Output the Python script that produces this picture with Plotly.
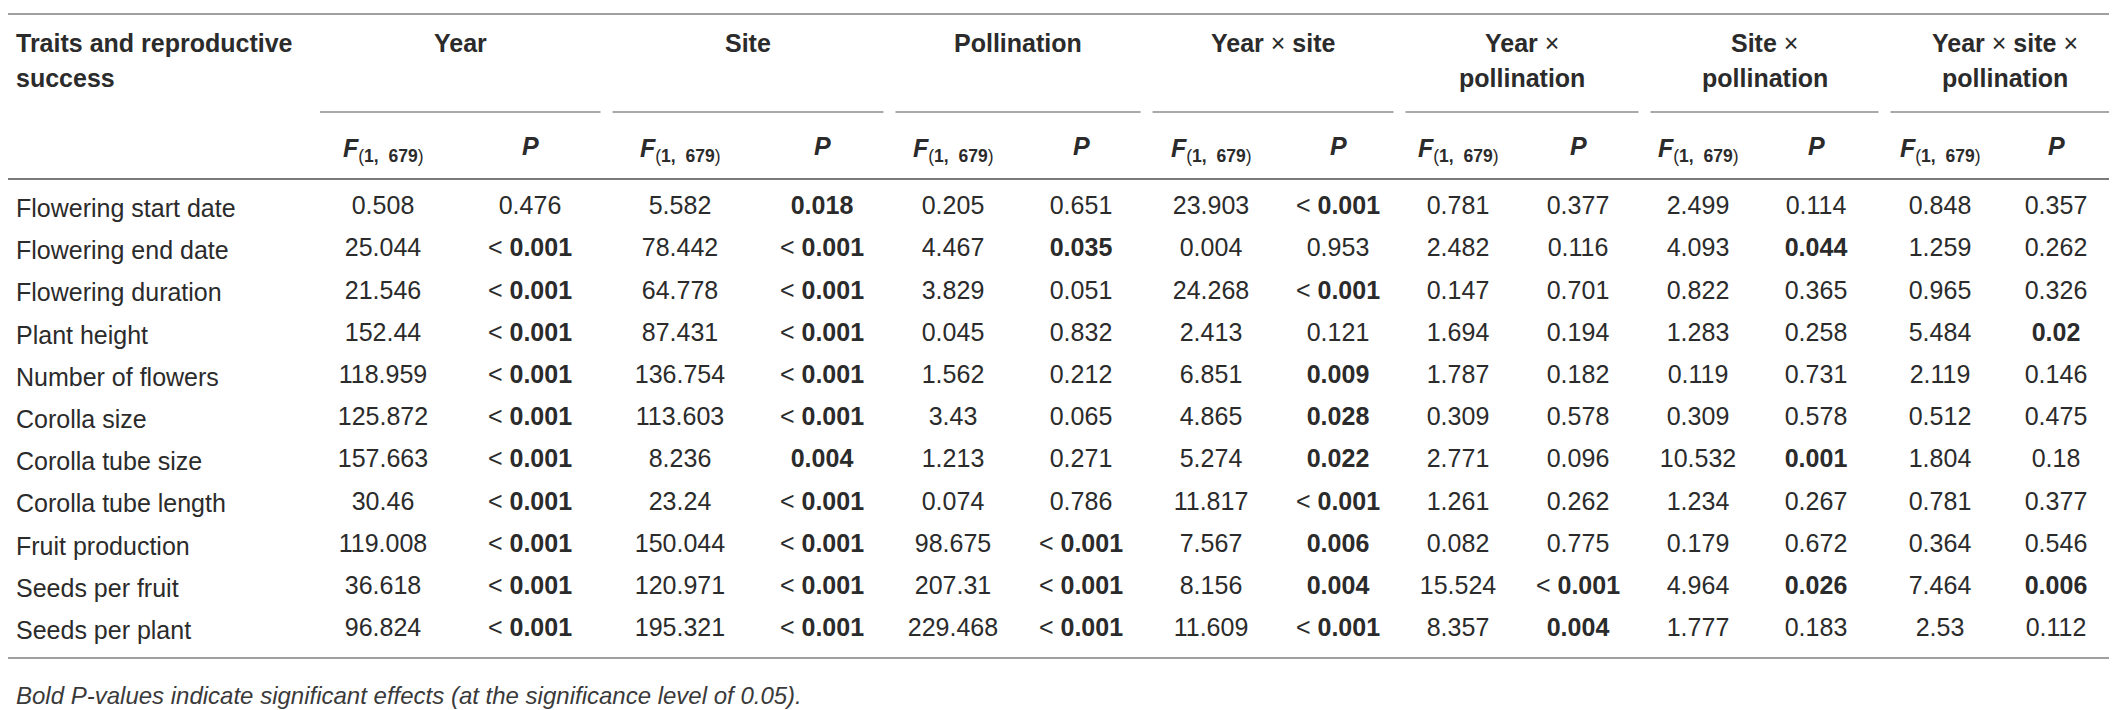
import plotly.graph_objects as go

# ---------------- data ----------------
traits = [
    "Flowering start date", "Flowering end date", "Flowering duration",
    "Plant height", "Number of flowers", "Corolla size", "Corolla tube size",
    "Corolla tube length", "Fruit production", "Seeds per fruit", "Seeds per plant",
]

effects = [
    ["Year"], ["Site"], ["Pollination"], ["Year × site"],
    ["Year ×", "pollination"], ["Site ×", "pollination"], ["Year × site ×", "pollination"],
]

f_year = ["0.508", "25.044", "21.546", "152.44", "118.959", "125.872", "157.663", "30.46", "119.008", "36.618", "96.824"]
p_year = ["0.476", "< 0.001", "< 0.001", "< 0.001", "< 0.001", "< 0.001", "< 0.001", "< 0.001", "< 0.001", "< 0.001", "< 0.001"]

f_site = ["5.582", "78.442", "64.778", "87.431", "136.754", "113.603", "8.236", "23.24", "150.044", "120.971", "195.321"]
p_site = ["0.018", "< 0.001", "< 0.001", "< 0.001", "< 0.001", "< 0.001", "0.004", "< 0.001", "< 0.001", "< 0.001", "< 0.001"]

f_poll = ["0.205", "4.467", "3.829", "0.045", "1.562", "3.43", "1.213", "0.074", "98.675", "207.31", "229.468"]
p_poll = ["0.651", "0.035", "0.051", "0.832", "0.212", "0.065", "0.271", "0.786", "< 0.001", "< 0.001", "< 0.001"]

f_ys = ["23.903", "0.004", "24.268", "2.413", "6.851", "4.865", "5.274", "11.817", "7.567", "8.156", "11.609"]
p_ys = ["< 0.001", "0.953", "< 0.001", "0.121", "0.009", "0.028", "0.022", "< 0.001", "0.006", "0.004", "< 0.001"]

f_yp = ["0.781", "2.482", "0.147", "1.694", "1.787", "0.309", "2.771", "1.261", "0.082", "15.524", "8.357"]
p_yp = ["0.377", "0.116", "0.701", "0.194", "0.182", "0.578", "0.096", "0.262", "0.775", "< 0.001", "0.004"]

f_sp = ["2.499", "4.093", "0.822", "1.283", "0.119", "0.309", "10.532", "1.234", "0.179", "4.964", "1.777"]
p_sp = ["0.114", "0.044", "0.365", "0.258", "0.731", "0.578", "0.001", "0.267", "0.672", "0.026", "0.183"]

f_ysp = ["0.848", "1.259", "0.965", "5.484", "2.119", "0.512", "1.804", "0.781", "0.364", "7.464", "2.53"]
p_ysp = ["0.357", "0.262", "0.326", "0.02", "0.146", "0.475", "0.18", "0.377", "0.546", "0.006", "0.112"]

f_cols = [f_year, f_site, f_poll, f_ys, f_yp, f_sp, f_ysp]
p_cols = [p_year, p_site, p_poll, p_ys, p_yp, p_sp, p_ysp]

first_header = ["Traits and reproductive", "success"]
footnote = "Bold P-values indicate significant effects (at the significance level of 0.05)."
alpha = 0.05

# ---------------- layout ----------------
W, H = 2117, 710
FONT = "Liberation Sans, Arial, sans-serif"
TXT = "#2b2b2b"
LINE = "#8c8c8c"
fs = 25

group_edges = [306, 598.5, 881.5, 1138.5, 1391.5, 1636.5, 1876.5, 2118]
f_x = [375, 672, 945, 1203, 1450, 1690, 1932]
p_x = [522, 814, 1073, 1330, 1570, 1808, 2048]

y_top = 6
y_head1 = 35
y_head_step = 35
y_sub = 104
y_colhead = 142
y_headline = 171
y_row0 = 200
row_step = 42.2
y_bottom = 650
y_foot = 687


def fmt_p(s):
    if s.startswith("<"):
        return "< <b>" + s[1:].strip() + "</b>"
    if float(s) < alpha:
        return "<b>" + s + "</b>"
    return s


def fmt_header(s):
    parts = s.split(" ")
    return " ".join(p if p == "×" else "<b>" + p + "</b>" for p in parts)


fig = go.Figure()
ann = []

# first column header
for k, line in enumerate(first_header):
    ann.append(dict(x=6, y=y_head1 + k * y_head_step, text="<b>" + line + "</b>",
                    xanchor="left", yanchor="middle"))

# group headers and sublines
shapes = []
for g, name in enumerate(effects):
    cx = (group_edges[g] + group_edges[g + 1]) / 2
    for k, line in enumerate(name):
        ann.append(dict(x=cx, y=y_head1 + k * y_head_step, text=fmt_header(line),
                        xanchor="center", yanchor="middle"))
    shapes.append(dict(type="line", x0=group_edges[g] + 6, x1=group_edges[g + 1] - 6,
                       y0=y_sub, y1=y_sub, line=dict(color=LINE, width=1.5)))
    ann.append(dict(x=f_x[g], y=y_colhead,
                    text="<b><i>F</i></b><sub>(<b>1,  679</b>)</sub>",
                    xanchor="center", yanchor="middle"))
    ann.append(dict(x=p_x[g], y=y_colhead - 4, text="<b><i>P</i></b>",
                    xanchor="center", yanchor="middle"))

# rows
for i, t in enumerate(traits):
    y = y_row0 + i * row_step
    ann.append(dict(x=6, y=y, text=t, xanchor="left", yanchor="middle"))

for g in range(len(effects)):
    ys = [y_row0 + i * row_step for i in range(len(traits))]
    fig.add_trace(go.Scatter(x=[f_x[g]] * len(traits), y=ys, mode="text",
                             text=f_cols[g], textposition="middle center",
                             textfont=dict(family=FONT, size=fs, color=TXT),
                             hoverinfo="skip", showlegend=False))
    fig.add_trace(go.Scatter(x=[p_x[g]] * len(traits), y=ys, mode="text",
                             text=[fmt_p(s) for s in p_cols[g]], textposition="middle center",
                             textfont=dict(family=FONT, size=fs, color=TXT),
                             hoverinfo="skip", showlegend=False))

# footnote
ann.append(dict(x=6, y=y_foot, text="<i>" + footnote + "</i>", xanchor="left",
                yanchor="middle", font=dict(family=FONT, size=24, color="#3a3a3a")))

# horizontal rules
shapes.append(dict(type="line", x0=0, x1=2112, y0=y_top, y1=y_top, line=dict(color="#a0a0a0", width=2)))
shapes.append(dict(type="line", x0=0, x1=2112, y0=y_headline, y1=y_headline, line=dict(color="#7a7a7a", width=2)))
shapes.append(dict(type="line", x0=0, x1=2112, y0=y_bottom, y1=y_bottom, line=dict(color="#a0a0a0", width=2)))

for a in ann:
    a.setdefault("font", dict(family=FONT, size=fs, color=TXT))
    a.update(xref="x", yref="y", showarrow=False)

fig.update_layout(
    width=W, height=H,
    margin=dict(l=0, r=0, t=0, b=0),
    paper_bgcolor="white", plot_bgcolor="white",
    xaxis=dict(range=[0, W], visible=False, fixedrange=True),
    yaxis=dict(range=[H, 0], visible=False, fixedrange=True),
    annotations=ann, shapes=shapes,
    showlegend=False,
)

fig.write_html("out.html")
